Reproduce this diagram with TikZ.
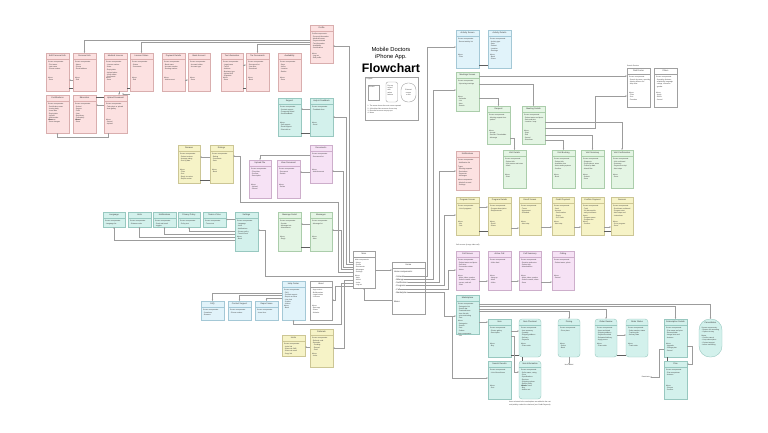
\documentclass[tikz,border=0pt]{standalone}
\usepackage{fontspec}
\setmainfont{Liberation Sans}
\usetikzlibrary{arrows.meta,calc}
\definecolor{pinkF}{HTML}{FCE1E1}\definecolor{pinkD}{HTML}{D9AEAE}
\definecolor{tealF}{HTML}{D3F1EC}\definecolor{tealD}{HTML}{98C8C0}
\definecolor{blueF}{HTML}{E1F3FA}\definecolor{blueD}{HTML}{A4C8D6}
\definecolor{greenF}{HTML}{E4F5E4}\definecolor{greenD}{HTML}{ABCDAB}
\definecolor{yelF}{HTML}{F6F3C7}\definecolor{yelD}{HTML}{CCC695}
\definecolor{purF}{HTML}{F6E2F5}\definecolor{purD}{HTML}{CDAECB}
\definecolor{whiteD}{HTML}{A0A0A0}
\definecolor{lineC}{HTML}{9C9C9C}\definecolor{barC}{HTML}{5E5E5E}
\tikzset{
 bxbase/.style={line width=0.4pt, inner sep=0pt, outer sep=0pt},
 pinkbox/.style={bxbase, fill=pinkF, draw=pinkD},
 tealbox/.style={bxbase, fill=tealF, draw=tealD},
 tealround/.style={bxbase, fill=tealF, draw=tealD, rounded corners=3pt},
 capsule/.style={bxbase, fill=tealF, draw=tealD, rounded corners=11pt},
 bluebox/.style={bxbase, fill=blueF, draw=blueD},
 greenbox/.style={bxbase, fill=greenF, draw=greenD},
 yelbox/.style={bxbase, fill=yelF, draw=yelD},
 purbox/.style={bxbase, fill=purF, draw=purD},
 whitebox/.style={bxbase, fill=white, draw=whiteD},
 ttl/.style={font=\fontsize{2.1}{2.5}\selectfont, inner sep=0pt, text=black!80},
 bdy/.style={font=\fontsize{1.7}{2.3}\selectfont, inner sep=0pt, align=left, anchor=north west, text=black!80},
 hb/.style={font=\fontsize{2.1}{2.5}\selectfont, inner sep=0pt, anchor=west, text=black!85},
 ln/.style={draw=lineC, line width=0.35pt},
 arr/.style={draw=lineC, line width=0.35pt, -{Stealth[length=1.7pt,width=1.4pt]}},
 bar/.style={draw=barC, line width=0.9pt}
}
\newcommand{\flbox}[9]{%
 \node[#6, minimum width=#4pt, minimum height=#5pt, anchor=north west] (#1) at (#2,#3) {};
 \draw[#6, fill=none] ($(#1.north west)+(0,-6pt)$) -- ($(#1.north east)+(0,-6pt)$);
 \node[ttl] (#1t) at ($(#1.north)+(0,-3pt)$) {#7};
 \node[bdy] (#1b) at ($(#1.north west)+(2pt,-8.5pt)$) {#8};
 \node[bdy] (#1m) at ($(#1.north west)+(2pt,-24pt)$) {#9};
}
\begin{document}
\begin{tikzpicture}[x=1pt,y=-1pt]
\fill[white] (0,0) rectangle (768,432);
\useasboundingbox (0,0) rectangle (768,432);

% ---------- title and legend ----------
\node[font=\fontsize{5.8}{6.5}\selectfont] (t1) at (391,49) {Mobile Doctors};
\node[font=\fontsize{5.8}{6.5}\selectfont] (t2) at (391,57) {iPhone App.};
\node[font=\fontsize{12.3}{13}\selectfont\bfseries] (t3) at (391,68.5) {Flowchart};
\node[whitebox, minimum width=53pt, minimum height=43pt, anchor=north west] (leg) at (365,77) {};
\node[bdy] (legt) at (366.5,78.5) {Legend};
\node[whitebox, minimum width=11pt, minimum height=15pt, anchor=north west] (lg1) at (368,85) {};
\node[bdy] (lg1t) at ($(lg1.north west)+(1pt,-1.5pt)$) {Screen};
\node[whitebox, rounded corners=2pt, minimum width=11.5pt, minimum height=20pt, anchor=north west] (lg2) at (386,82) {};
\node[bdy] (lg2t) at ($(lg2.north west)+(1.3pt,-3pt)$) {Pop-up\\screen\\with\\action\\buttons};
\node[whitebox, rounded corners=7pt, minimum width=15pt, minimum height=19pt, anchor=north west] (lg3) at (401,83) {};
\node[bdy, align=center, anchor=center] (lg3t) at (lg3.center) {External\\screen\\or link};
\node[bdy] (legn) at (367.5,105.5) {1. The arrow shows the next screen opened\\2. A thick bar links screens of one step\\3. Rounded screens are pop-ups\\4. Notes};

% ---------- pink profile cluster ----------
\flbox{P0}{310}{25}{23}{38}{pinkbox}{Profile}{Profile components:\\- Personal information\\- Medical license\\- Payment details\\- Tax information\\- Availability\\- Certifications\\[3pt]Menu:\\- Log out\\- Edit profile}{}
\flbox{P1}{46}{53}{23}{38}{pinkbox}{Edit Personal Info}{Screen components:\\- First name\\- Last name\\- Phone number}{Menu:\\- Save}
\flbox{P2}{73}{53}{23}{38}{pinkbox}{Personal Info}{Screen components:\\- Name\\- Phone\\- Email address}{Menu:\\- Edit}
\flbox{P3}{104}{53}{23}{38}{pinkbox}{Medical License}{Screen components:\\- License number\\- State\\[1pt]- Expiry date\\- Upload photo\\- Verify status\\- Comments}{Menu:\\- Save}
\flbox{P4}{130}{53}{23}{38}{pinkbox}{License Status}{Screen components:\\- Status\\- Comments}{Menu:\\- Edit}
\flbox{P5}{162}{53}{23}{38}{pinkbox}{Payment Details}{Screen components:\\- Bank name\\- Account number\\- Routing number}{Menu:\\- Add account}
\flbox{P6}{188}{53}{22}{38}{pinkbox}{Bank Account}{Screen components:\\- Account holder\\- Account type}{Menu:\\- Save}
\flbox{P7}{221}{53}{22}{38}{pinkbox}{Tax Information}{Screen components:\\- Legal name\\- Tax ID\\- Address\\- Business type\\- Upload W-9\\- Signature}{Menu:\\- Save}
\flbox{P8}{246}{53}{23}{38}{pinkbox}{Tax Documents}{Screen components:\\- Document list\\- Year filter\\- Download}{Menu:\\- Back}
\flbox{P9}{278}{53}{23}{38}{pinkbox}{Availability}{Screen components:\\- Days\\- Hours\\- Location\\- Radius}{Menu:\\- Save}
\flbox{P10}{46}{95}{23}{38}{pinkbox}{Certifications}{Screen components:\\- Certification name\\- Issuing body\\- Issue date\\- Expiry date\\- Upload\\- Add another\\- Remove}{Menu:\\- Save changes}
\flbox{P11}{73}{95}{23}{38}{pinkbox}{Education}{Screen components:\\- School\\- Degree\\- Field\\- Year\\- Residency\\- Fellowship\\- Board}{Menu:\\- Save}
\flbox{P12}{104}{95}{23}{38}{pinkbox}{Upload Document}{Screen components:\\- Take photo or upload\\- from gallery}{Menu:\\- Cancel\\- Upload}

% ---------- left middle ----------
\flbox{T1}{278}{98}{23}{38}{tealbox}{Support}{Screen components:\\- Contact support\\- Frequently asked\\- Send feedback}{Menu:\\- Call support\\- Email support\\- Chat with us}
\flbox{T2}{310}{98}{23}{38}{tealbox}{Help \& Feedback}{Screen components:\\- Feedback form}{Menu:\\- Send}
\flbox{Y1}{178}{145}{22}{38}{yelbox}{Reviews}{Screen components:\\- Patient reviews\\- Average rating\\- Sort by date}{Menu:\\- Filter\\- Sort\\- Reply to review\\- Report review}
\flbox{Y2}{210}{145}{23}{38}{yelbox}{Ratings}{Screen components:\\- Rating\\- Comments\\- Date}{Menu:\\- Back}
\flbox{U1}{249}{160}{22}{38}{purbox}{Upload File}{Screen components:\\- File picker\\- Preview\\- Description}{Menu:\\- Upload\\- Cancel}
\flbox{U2}{277}{160}{23}{38}{purbox}{View Document}{Screen components:\\- Document\\- Details}{Menu:\\- Delete}
\flbox{U3}{310}{145}{22}{38}{purbox}{Documents}{Screen components:\\- Document list}{Menu:\\- Add document}
\flbox{G1}{278}{212}{23}{39}{greenbox}{Message Detail}{Screen components:\\- Sender\\- Message text\\- Attachments}{Menu:\\- Reply}
\flbox{G2}{310}{212}{22}{39}{greenbox}{Messages}{Screen components:\\- Message list}{Menu:\\- New}
\flbox{S1}{103}{212}{22}{15}{tealbox}{Language}{Screen components:\\- Language list}{}
\flbox{S2}{128}{212}{23}{15}{tealbox}{Units}{Screen components:\\- Distance units}{}
\flbox{S3}{153}{212}{23}{15}{tealbox}{Notifications}{Screen components:\\- Push and email\\- toggles}{}
\flbox{S4}{178}{212}{22}{15}{tealbox}{Privacy Policy}{Screen components:\\- Policy text}{}
\flbox{S5}{203}{212}{23}{15}{tealbox}{Terms of Use}{Screen components:\\- Terms text}{}
\flbox{S6}{235}{212}{23}{39}{tealbox}{Settings}{Screen components:\\- Language\\- Units\\[1pt]- Notifications\\- Privacy policy\\- Terms of use}{Menu:\\- Back}
\flbox{L1}{201}{301}{23}{19}{bluebox}{FAQ}{Screen components:\\- Questions\\- Answers}{}
\flbox{L2}{228}{301}{23}{19}{bluebox}{Contact Support}{Screen components:\\- Phone number}{}
\flbox{L3}{255}{301}{23}{19}{bluebox}{Report Issue}{Screen components:\\- Issue form}{}
\flbox{L4}{282}{281}{23}{39}{bluebox}{Help Center}{Screen components:\\- FAQ\\- Contact support\\- Report an issue\\- Live chat\\- Guides\\- Videos}{Menu:\\- Back}
\flbox{W1}{310}{281}{22}{39}{whitebox}{About}{- App version\\- Build number\\- Legal notices\\- Licenses}{Menu:\\- Rate app\\- Share\\- Website}
\flbox{Y3}{282}{335}{23}{21}{yelbox}{Invite}{Screen components:\\- Invite link\\- Share via SMS\\- Share via email\\- Copy link}{}
\flbox{Y4}{310}{329}{23}{38}{yelbox}{Referrals}{Screen components:\\- Referral code\\- Rewards:\\\ \ - Pending\\\ \ - Earned\\\ \ - Paid}{Menu:\\- Invite}
\flbox{M}{353}{251}{22}{37}{whitebox}{Main}{Main components:\\- Home\\- Profile\\- Documents\\- Messages\\- Settings}{Menu:\\- Help\\- About\\- Invite\\- Log out}

% ---------- home ----------
\flbox{H}{392}{262}{33}{52}{whitebox}{Home}{}{}
\node[hb] (h0) at (394,271.5) {Home components:};
\node[hb] (h1) at (395,276.5) {- Schedule};
\node[hb] (h2) at (395,279.5) {- Mileage};
\node[hb] (h3) at (395,282.5) {- Notifications};
\node[hb] (h4) at (395,285.5) {- Programs};
\node[hb] (h5) at (395,289.5) {- Call};
\node[hb] (h6) at (395,292.5) {- Marketplace};
\node[hb] (h7) at (394,302) {Menu:};

% ---------- right side ----------
\flbox{A1}{456}{30}{23}{38}{bluebox}{Activity Screen}{Screen components:\\- Recent activity list}{Menu:\\- Filter}
\flbox{A2}{488}{30}{23}{38}{bluebox}{Activity Details}{Screen components:\\- Activity type\\- Date\\- Patient\\- Location\\- Earnings}{Menu:\\- Back\\- Share}
\flbox{MS}{456}{72}{23}{39}{greenbox}{Meetings Screen}{Screen components:\\- Upcoming meetings}{Menu:\\- Calendar\\- List\\- New\\- Search}
\flbox{B1}{487}{106}{23}{38}{greenbox}{Request}{Screen components:\\- Meeting request from\\- patient}{Menu:\\- Accept\\- Decline / Reschedule\\- Message}
\flbox{B2}{522}{106}{23}{38}{greenbox}{Meeting Details}{Screen components:\\- Patient name and photo\\- Date and time\\- Location / map}{Menu:\\- Start\\- Edit\\- Cancel\\- Directions}
\node[bdy, anchor=south west] (sdl) at (627,67) {Search Doctors};
\flbox{SD1}{627}{68}{23}{39}{whitebox}{Find Doctor}{Screen components:\\- Search by name, specialty\\- Nearby doctors list\\- Map view}{Menu:\\- Filter\\- Sort\\- Favorites}
\flbox{SD2}{654}{68}{23}{39}{whitebox}{Filters}{Screen components:\\- Specialty, distance,\\- availability, language\\- ratings, insurance\\- gender}{Menu:\\- Apply\\- Reset\\- Cancel}
\flbox{N}{456}{151}{23}{39}{pinkbox}{Notifications}{Screen components:\\- Notification list\\[2pt]Types:\\- Meeting requests\\- Reminders\\- Payments\\- Messages\\[2pt]Menu components:\\- Mark all as read\\- Settings}{}
\flbox{C1}{503}{150}{23}{38}{greenbox}{Visit Details}{Screen components:\\- Patient info\\- Visit reason and notes\\- Vitals}{Menu:\\- Start}
\flbox{C2}{552}{150}{23}{38}{greenbox}{Visit Booking}{Screen components:\\- Patient info\\- Available slots\\- Notes and symptoms\\- Confirm}{Menu:\\- Book}
\flbox{C3}{581}{150}{23}{38}{greenbox}{Visit Summary}{Screen components:\\- Diagnosis\\- Prescriptions, notes\\- Follow-up date\\- Attach files}{Menu:\\- Submit\\- Save}
\flbox{C4}{611}{150}{22}{38}{greenbox}{Visit Confirmation}{Screen components:\\- Visit confirmed\\- Summary\\- Payment receipt\\- Next steps}{Menu:\\- Done}
\flbox{R1}{456}{197}{23}{38}{yelbox}{Program Screen}{Screen components:\\- List of programs}{Menu:\\- Info\\- Join}
\flbox{R2}{488}{197}{23}{38}{yelbox}{Program Details}{Screen components:\\- Program description\\- Requirements}{Menu:\\- Enroll\\- Share}
\flbox{R3}{519}{197}{22}{38}{yelbox}{Enroll Screen}{Screen components:\\- Terms\\- Agreement\\- Schedule}{Menu:\\- Next step}
\flbox{R4}{552}{197}{22}{38}{yelbox}{Credit Payment}{Screen components:\\- Card\\- Amount\\\ \ - Card number\\\ \ - Expiry\\\ \ - CVV code}{Menu:\\- Next step}
\flbox{R5}{581}{197}{23}{38}{yelbox}{Confirm Payment}{Screen components:\\- Total\\- 3\% discount for\\- early enrollment\\Items:\\- Program name\\- Program fee}{Menu:\\- Confirm}
\flbox{R6}{611}{197}{22}{38}{yelbox}{Success}{Screen components:\\- Enrollment confirmed\\- Program start\\- Next steps and\\- instructions}{Menu:\\- Go to program\\- Done}
\node[bdy, anchor=west] (cl) at (456,245) {Call screens (in-app video call)};
\flbox{K1}{456}{251}{23}{39}{purbox}{Call Screen}{Screen components:\\- Patient name and photo\\- Call timer\\- Connection status\\- Notes}{Menu:\\- Mute, video, speaker\\- Switch camera, share\\- screen, end call\\- Chat}
\flbox{K2}{488}{251}{23}{39}{purbox}{Active Call}{Screen components:\\- Video feed}{Menu:\\- Hang up\\- Mute\\- Video}
\flbox{K3}{519}{251}{22}{39}{purbox}{Call Summary}{Screen components:\\- Duration and notes\\- Patient info\\- Attached files}{Menu:\\- Mute, video, speaker\\- Switch camera, share\\- Save}
\flbox{K4}{552}{251}{22}{39}{purbox}{Calling}{Screen components:\\- Patient name, photo}{Menu:\\- Cancel}
\flbox{MK}{456}{295}{23}{39}{tealbox}{Marketplace}{Screen components:\\- Categories list\\- Search bar\\- Featured items\\- Item list with\\- price and rating\\- Cart\\[1pt]Menu:\\- Categories\\- Search\\- Cart\\- Orders\\[1pt]Item components:\\- Info}{}
\flbox{X1}{488}{319}{23}{38}{tealbox}{Item}{Screen components:\\- Photos gallery\\- Description}{Menu:\\- Buy}
\flbox{X2}{519}{319}{22}{38}{tealround}{Item Checkout}{Screen components:\\- Item summary\\- Quantity\\- Shipping address\\- Delivery\\- Payment}{Menu:\\- Place order}
\flbox{X3}{558}{319}{22}{38}{tealround}{Pricing}{Screen components:\\- Price plans}{Menu:\\- Select\\- Back}
\flbox{X4}{595}{319}{22}{38}{tealround}{Order Review}{Screen components:\\- Items and totals\\- Shipping address\\- Payment method\\- Estimated delivery\\- Apply promo}{Menu:\\- Place order}
\flbox{X5}{626}{319}{22}{38}{tealround}{Order Status}{Screen components:\\- Order number, status\\- Tracking info\\- Delivery date}{Menu:\\- Track order}
\flbox{X6}{664}{319}{23}{38}{tealbox}{Subscription Details}{Screen components:\\- Plan name and price\\- Renewal date\\- Usage limits and\\- features}{Menu:\\- Upgrade\\- Change plan\\- Cancel}
\flbox{X7}{664}{361}{23}{38}{tealbox}{Plan}{Screen components:\\- Plan comparison\\- features}{Menu:\\- Choose\\- Confirm}
\flbox{X9}{488}{361}{23}{38}{tealbox}{Search Results}{Screen components:\\- List of found items}{Menu:\\- Sort}
\flbox{X10}{519}{361}{22}{38}{tealround}{Item Information}{Screen components:\\- Seller name, rating\\- Price\\- Specifications\\- Reviews\\- Shipping options\\- Return policy\\- Similar items}{Menu:\\- Buy\\- Add to cart}
\node[capsule, minimum width=23pt, minimum height=38pt, anchor=north west] (X8) at (699,319) {};
\node[ttl] (X8t) at ($(X8.north)+(0,-4pt)$) {Cancellation};
\node[bdy] (X8b) at ($(X8.north west)+(2.5pt,-8pt)$) {Screen components:\\- Reason for cancelling\\- Options to stay\\[1pt]Menu:\\- Confirm cancel\\- Keep subscription\\- Contact support\\- before cancelling};
\node[bdy, anchor=north] (n3) at (569,364.5) {Item added};
\node[bdy, anchor=east] (deact) at (650,377) {Deactivate};
\node[bdy, anchor=north, align=center] (bnote) at (530,401.5) {Items selected in the marketplace are added to the cart\\and paid by card at the checkout (see Credit Payment)};

% ---------- connectors: profile cluster ----------
\draw[arr] (P0.west |- 0,40) -| (P2.north);
\draw[arr] (P0.west |- 0,42) -| (P4.north);
\draw[arr] (P0.west |- 0,44) -| (P8.north);
\draw[arr] (P2.west |- 0,80) -- (P1.east |- 0,80);
\draw[bar] (P1.east |- 0,88) -- (P2.west |- 0,88);
\draw[bar] (P3.east |- 0,88) -- (P4.west |- 0,88);
\draw[arr] (P5.east |- 0,80) -- (P6.west |- 0,80);
\draw[arr] (P7.east |- 0,65) -- (P8.west |- 0,65);
\draw[bar] (P7.east |- 0,88) -- (P8.west |- 0,88);
\draw[arr] (P3.south -| 119,0) -- (P12.north -| 119,0);
\draw[arr] (P4.south west) ++(0,-3pt) -| (P12.north -| 123,0);
\draw[bar] (P11.east |- 0,97) -- (P12.west |- 0,97);
\draw[arr] (P12.west |- 0,105) -- (P11.east |- 0,105);
\draw[arr] (P12.south -| 108,0) |- (P10.south |- 0,137) -- (P10.south);
\draw[arr] (T2.west |- 0,109) -- (T1.east |- 0,109);
\draw[bar] (T1.east |- 0,133) -- (T2.west |- 0,133);

% ---------- connectors: main ----------
\coordinate (yb) at (240,202);
\draw[arr] (M.west |- 0,262) -- ++(-4,0) |- (P0.east |- 0,46);
\draw[arr] (M.west |- 0,264.5) -- ++(-7,0) |- (T2.east |- 0,117);
\draw[arr] (M.west |- 0,267) -- ++(-9.5,0) |- (U3.east |- 0,171);
\draw[arr] (M.west |- 0,269.5) -- ++(-12,0) |- (G2.east |- 0,230);
\draw[arr] (M.west |- 0,272) -- ++(-14.5,0) |- (yb) |- (Y2.east |- 0,156);
\draw[arr] (M.west |- 0,276) -- ++(-88,0) |- (S6.east |- 0,230);
\draw[arr] (M.west |- 0,280) -- ++(-9,0) |- (Y4.east |- 0,348);
\draw[arr] (M.west |- 0,283) -- ++(-12,0) |- (L4.south |- 0,324) -- (L4.south);
\draw[arr] (M.west |- 0,286) -- ++(-18,0) |- (W1.east |- 0,300);
\draw[arr] (U3.west |- 0,155) -| (U1.north);
\draw[arr] (U3.west |- 0,172) -- (U2.east |- 0,172);
\draw[arr] (G2.west |- 0,224) -- (G1.east |- 0,224);
\draw[bar] (G1.east |- 0,247) -- (G2.west |- 0,247);
\draw[arr] (Y2.west |- 0,157) -- (Y1.east |- 0,157);
\draw[bar] (Y1.east |- 0,180) -- (Y2.west |- 0,180);
\draw[arr] (S6.west |- 0,219.5) -- (S5.east |- 0,219.5);
\draw[arr] (S6.west |- 0,231) -| (S4.south);
\draw[arr] (S6.west |- 0,234) -| (S3.south);
\draw[arr] (S6.west |- 0,237) -| (S2.south);
\draw[arr] (S6.west |- 0,240) -| (S1.south);
\draw[arr] (L4.west |- 0,293) -| (L1.north);
\draw[arr] (L4.west |- 0,295.5) -| (L2.north);
\draw[arr] (L4.west |- 0,298) -| (L3.north);
\draw[arr] (Y4.west |- 0,347) -- (Y3.east |- 0,347);
\draw[arr] (M.east |- 0,270) -- (H.west |- 0,270);
\draw[arr] (H.west |- 0,300) -| (M.south);

% ---------- connectors: home ----------
\draw[arr] (h1.east) -- (h1.east -| 427,0) |- (A1.west |- 0,47);
\draw[arr] (h2.east) -- (h2.east -| 433,0) |- (MS.west |- 0,90);
\draw[arr] (h3.east) -- (h3.east -| 439,0) |- (N.west |- 0,171);
\draw[arr] (h4.east) -- (h4.east -| 444,0) |- (R1.west |- 0,215);
\draw[arr] (h5.east) -- (h5.east -| 448,0) |- (K1.west |- 0,270);
\draw[arr] (h6.east) -- (h6.east -| 444,0) |- (MK.west |- 0,316);
\draw[arr] (MK.west |- 0,316) ++(-4pt,0) |- (X9.west |- 0,378);

% ---------- connectors: right side ----------
\draw[bar] (A1.east |- 0,65) -- (A2.west |- 0,65);
\draw[arr] (MS.east |- 0,76) -- (SD1.west |- 0,76);
\draw[arr] (MS.east |- 0,84) -| (B2.north);
\draw[arr] (MS.east |- 0,98) -| (B1.north);
\draw[arr] (B1.east |- 0,138) -| (C1.north);
\draw[arr] (B2.east |- 0,140) -| (C2.north);
\draw[arr] (B2.east |- 0,135) -| (C3.north);
\draw[arr] (B2.east |- 0,122) -| (C4.north);
\draw[arr] (B2.east |- 0,128) -- ++(50,0) |- (SD1.west |- 0,96);
\draw[arr] (R1.east |- 0,207) -- (R2.west |- 0,207);
\draw[bar] (R1.east |- 0,231) -- (R2.west |- 0,231);
\draw[arr] (R2.east |- 0,228) -- (R3.west |- 0,228);
\draw[arr] (R3.east |- 0,227) -- (R4.west |- 0,227);
\draw[arr] (R4.east |- 0,227) -- (R5.west |- 0,227);
\draw[arr] (R5.east |- 0,227) -- (R6.west |- 0,227);
\draw[bar] (R5.east |- 0,231) -- (R6.west |- 0,231);
\draw[arr] (K1.east |- 0,281) -- (K2.west |- 0,281);
\draw[arr] (K2.east |- 0,281) -- (K3.west |- 0,281);
\draw[arr] (K3.east |- 0,282) -- (K4.west |- 0,282);
\draw[arr] (MK.east |- 0,322) -- (X1.west |- 0,322);
\draw[arr] (MK.east |- 0,311.5) -| (X3.north);
\draw[arr] (MK.east |- 0,309) -| (X4.north);
\draw[arr] (MK.east |- 0,306.5) -| (X6.north);
\draw[arr] (MK.east |- 0,304) -| (X8.north);
\draw[arr] (X1.east |- 0,331) -- (X2.west |- 0,331);
\draw[bar] (X1.east |- 0,355) -- (X2.west |- 0,355);
\draw[bar] (X2.south -| 522,0) -- (X10.north -| 522,0);
\draw[arr] (X1.east |- 0,336) -- ++(3,0) |- (X10.west |- 0,372);
\draw[arr] (X4.east |- 0,335) -- (X5.west |- 0,335);
\draw[bar] (X4.east |- 0,355) -- (X5.west |- 0,355);
\draw[bar] (X6.south -| 667,0) -- (X7.north -| 667,0);
\draw[arr] (X6.east |- 0,346) -- ++(5,0) |- (X7.east |- 0,364);
\draw[arr] (X6.west |- 0,349) -- ++(-5,0) |- (deact.east);
\draw[arr] (X3.south) -- (n3.north);
\end{tikzpicture}
\end{document}
